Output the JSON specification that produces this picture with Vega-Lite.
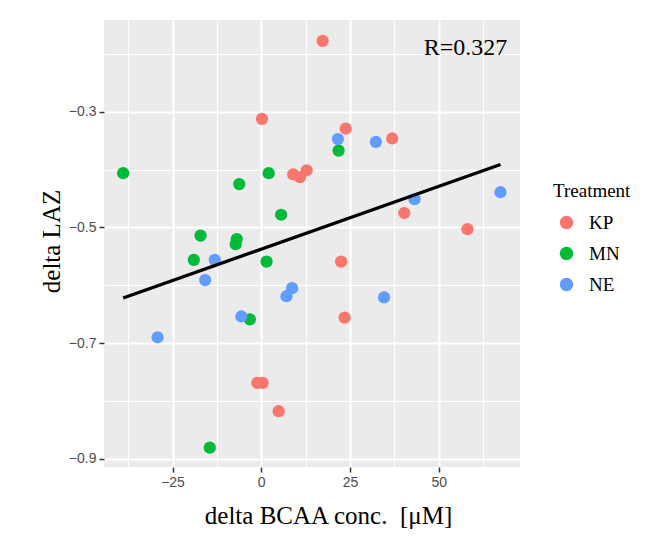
{
  "$schema": "https://vega.github.io/schema/vega-lite/v6.json",
  "width": 416,
  "height": 447,
  "autosize": {"type": "none"},
  "padding": {"left": 104, "top": 20, "right": 147, "bottom": 71},
  "background": "white",
  "config": {
    "font": "Liberation Serif",
    "view": {"fill": "#EBEBEB", "stroke": null},
    "axis": {
      "domain": false,
      "gridColor": "white",
      "tickColor": "#333333",
      "tickWidth": 1.5,
      "tickSize": 5,
      "labelFont": "Liberation Sans",
      "labelFontSize": 14,
      "labelColor": "#4D4D4D",
      "labelPadding": 3,
      "titleFont": "Liberation Serif",
      "titleFontSize": 25,
      "titleFontWeight": "normal",
      "titleColor": "black"
    }
  },
  "datasets": {
    "points": [
      {"delta_bcaa": 17.3, "delta_laz": -0.177, "Treatment": "KP"},
      {"delta_bcaa": 0.2, "delta_laz": -0.312, "Treatment": "KP"},
      {"delta_bcaa": 23.8, "delta_laz": -0.329, "Treatment": "KP"},
      {"delta_bcaa": 36.9, "delta_laz": -0.346, "Treatment": "KP"},
      {"delta_bcaa": 9.0, "delta_laz": -0.408, "Treatment": "KP"},
      {"delta_bcaa": 10.9, "delta_laz": -0.413, "Treatment": "KP"},
      {"delta_bcaa": 12.8, "delta_laz": -0.401, "Treatment": "KP"},
      {"delta_bcaa": 40.3, "delta_laz": -0.475, "Treatment": "KP"},
      {"delta_bcaa": 58.1, "delta_laz": -0.503, "Treatment": "KP"},
      {"delta_bcaa": 22.5, "delta_laz": -0.559, "Treatment": "KP"},
      {"delta_bcaa": 23.5, "delta_laz": -0.656, "Treatment": "KP"},
      {"delta_bcaa": -1.1, "delta_laz": -0.769, "Treatment": "KP"},
      {"delta_bcaa": 0.4, "delta_laz": -0.769, "Treatment": "KP"},
      {"delta_bcaa": 4.9, "delta_laz": -0.818, "Treatment": "KP"},
      {"delta_bcaa": 21.8, "delta_laz": -0.367, "Treatment": "MN"},
      {"delta_bcaa": -38.9, "delta_laz": -0.406, "Treatment": "MN"},
      {"delta_bcaa": 2.1, "delta_laz": -0.406, "Treatment": "MN"},
      {"delta_bcaa": -6.2, "delta_laz": -0.425, "Treatment": "MN"},
      {"delta_bcaa": 5.6, "delta_laz": -0.478, "Treatment": "MN"},
      {"delta_bcaa": -17.1, "delta_laz": -0.514, "Treatment": "MN"},
      {"delta_bcaa": -6.9, "delta_laz": -0.52, "Treatment": "MN"},
      {"delta_bcaa": -7.2, "delta_laz": -0.529, "Treatment": "MN"},
      {"delta_bcaa": -19.0, "delta_laz": -0.556, "Treatment": "MN"},
      {"delta_bcaa": 1.5, "delta_laz": -0.559, "Treatment": "MN"},
      {"delta_bcaa": -3.2, "delta_laz": -0.659, "Treatment": "MN"},
      {"delta_bcaa": -14.5, "delta_laz": -0.881, "Treatment": "MN"},
      {"delta_bcaa": 21.6, "delta_laz": -0.347, "Treatment": "NE"},
      {"delta_bcaa": 32.3, "delta_laz": -0.352, "Treatment": "NE"},
      {"delta_bcaa": 43.2, "delta_laz": -0.451, "Treatment": "NE"},
      {"delta_bcaa": 67.4, "delta_laz": -0.439, "Treatment": "NE"},
      {"delta_bcaa": -13.1, "delta_laz": -0.556, "Treatment": "NE"},
      {"delta_bcaa": -15.8, "delta_laz": -0.591, "Treatment": "NE"},
      {"delta_bcaa": 8.7, "delta_laz": -0.605, "Treatment": "NE"},
      {"delta_bcaa": 7.1, "delta_laz": -0.619, "Treatment": "NE"},
      {"delta_bcaa": 34.6, "delta_laz": -0.621, "Treatment": "NE"},
      {"delta_bcaa": -5.6, "delta_laz": -0.654, "Treatment": "NE"},
      {"delta_bcaa": -29.2, "delta_laz": -0.69, "Treatment": "NE"}
    ],
    "fit": [
      {"delta_bcaa": -38.9, "delta_laz": -0.622},
      {"delta_bcaa": 67.4, "delta_laz": -0.391}
    ],
    "annotation": [
      {"delta_bcaa": 69.3, "delta_laz": -0.202, "label": "R=0.327"}
    ]
  },
  "layer": [
    {
      "data": {"name": "points"},
      "mark": {"type": "point", "filled": true, "opacity": 1, "size": 150},
      "encoding": {
        "x": {
          "field": "delta_bcaa",
          "type": "quantitative",
          "scale": {"domain": [-44.3, 72.9], "nice": false, "zero": false},
          "axis": {
            "title": "delta BCAA conc. \u00a0[\u03bcM]",
            "values": [-37.5, -25, -12.5, 0, 12.5, 25, 37.5, 50, 62.5],
            "format": ".0f",
            "labelExpr": "datum.value % 25 == 0 ? datum.label : ''",
            "gridWidth": {"condition": {"test": "datum.value % 25 != 0", "value": 1}, "value": 2},
            "tickOpacity": {"condition": {"test": "datum.value % 25 != 0", "value": 0}, "value": 1},
            "titleX": 224,
            "titleY": 56,
            "titleAlign": "center",
            "titleBaseline": "alphabetic"
          }
        },
        "y": {
          "field": "delta_laz",
          "type": "quantitative",
          "scale": {"domain": [-0.9145, -0.141], "nice": false, "zero": false},
          "axis": {
            "title": "delta LAZ",
            "values": [-0.9, -0.8, -0.7, -0.6, -0.5, -0.4, -0.3, -0.2],
            "format": ".1f",
            "labelExpr": "abs(round(datum.value * 10)) % 2 == 1 ? datum.label : ''",
            "gridWidth": {"condition": {"test": "abs(round(datum.value * 10)) % 2 == 0", "value": 1}, "value": 2},
            "tickOpacity": {"condition": {"test": "abs(round(datum.value * 10)) % 2 == 0", "value": 0}, "value": 1},
            "titleX": -53,
            "titleY": 221,
            "titleAngle": -90,
            "titleAlign": "center",
            "titleBaseline": "middle"
          }
        },
        "color": {
          "field": "Treatment",
          "type": "nominal",
          "scale": {"domain": ["KP", "MN", "NE"], "range": ["#F8766D", "#00BA38", "#619CFF"]},
          "legend": {
            "orient": "none",
            "legendX": 449,
            "legendY": 162,
            "title": "Treatment",
            "titleFont": "Liberation Serif",
            "titleFontSize": 19,
            "titleFontWeight": "normal",
            "titleColor": "black",
            "titlePadding": 12,
            "labelFont": "Liberation Serif",
            "labelFontSize": 19,
            "labelColor": "black",
            "labelOffset": 13,
            "symbolType": "circle",
            "symbolSize": 180,
            "symbolOffset": 4,
            "rowPadding": 11
          }
        }
      }
    },
    {
      "data": {"name": "fit"},
      "mark": {"type": "line", "color": "black", "strokeWidth": 3.3},
      "encoding": {
        "x": {"field": "delta_bcaa", "type": "quantitative"},
        "y": {"field": "delta_laz", "type": "quantitative"}
      }
    },
    {
      "data": {"name": "annotation"},
      "mark": {"type": "text", "align": "right", "baseline": "alphabetic", "font": "Liberation Serif", "fontSize": 24, "color": "black"},
      "encoding": {
        "x": {"field": "delta_bcaa", "type": "quantitative"},
        "y": {"field": "delta_laz", "type": "quantitative"},
        "text": {"field": "label"}
      }
    }
  ]
}
